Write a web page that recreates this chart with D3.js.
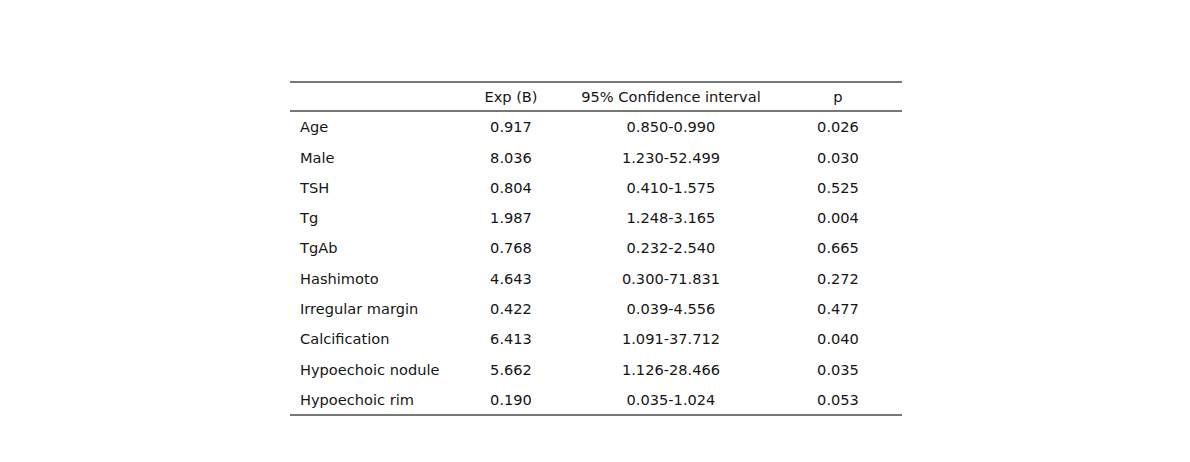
<!DOCTYPE html>
<html>
<head>
<meta charset="utf-8">
<script src="https://cdn.jsdelivr.net/npm/d3@7"></script>
<style>
  body { margin: 0; background: #fff; }
  svg text { font-family: "DejaVu Sans", sans-serif; font-size: 14.6px; fill: #151515; }
</style>
</head>
<body>
<div id="chart"></div>
<script>
// table contents
var headers = ['', 'Exp (B)', '95% Confidence interval', 'p'];
var variables = ['Age', 'Male', 'TSH', 'Tg', 'TgAb', 'Hashimoto', 'Irregular margin',
    'Calcification', 'Hypoechoic nodule', 'Hypoechoic rim'];
var expB = ['0.917', '8.036', '0.804', '1.987', '0.768', '4.643', '0.422', '6.413', '5.662', '0.190'];
var ci = ['0.850-0.990', '1.230-52.499', '0.410-1.575', '1.248-3.165', '0.232-2.540',
    '0.300-71.831', '0.039-4.556', '1.091-37.712', '1.126-28.466', '0.035-1.024'];
var pValues = ['0.026', '0.030', '0.525', '0.004', '0.665', '0.272', '0.477', '0.040', '0.035', '0.053'];

var width = 1190, height = 462;
var left = 290, right = 902;

var svg = d3.select('#chart').append('svg')
    .attr('width', width)
    .attr('height', height);

// rows: header then data
var y = d3.scaleBand()
    .domain(d3.range(variables.length))
    .range([112, 415]);

// column centres
var colX = [300, 511, 671, 838];

function rule(yy) {
    svg.append('line')
        .attr('x1', left).attr('x2', right)
        .attr('y1', yy).attr('y2', yy)
        .attr('stroke', '#777')
        .attr('stroke-width', 2);
}
rule(82);
rule(111);
rule(415);

// header
svg.selectAll('.head')
    .data(headers)
    .enter()
    .append('text')
    .attr('class', 'head')
    .attr('x', function(d, i) { return colX[i]; })
    .attr('y', 97)
    .attr('dy', '0.35em')
    .attr('text-anchor', function(d, i) { return i === 0 ? 'start' : 'middle'; })
    .text(function(d) { return d; });

var rows = svg.selectAll('.row')
    .data(variables)
    .enter()
    .append('g')
    .attr('class', 'row')
    .attr('transform', function(d, i) {
        return 'translate(0,' + (y(i) + y.bandwidth() / 2) + ')';
    });

rows.append('text')
    .attr('x', colX[0])
    .attr('dy', '0.35em')
    .text(function(d) { return d; });

rows.append('text')
    .attr('x', colX[1])
    .attr('dy', '0.35em')
    .attr('text-anchor', 'middle')
    .text(function(d, i) { return expB[i]; });

rows.append('text')
    .attr('x', colX[2])
    .attr('dy', '0.35em')
    .attr('text-anchor', 'middle')
    .text(function(d, i) { return ci[i]; });

rows.append('text')
    .attr('x', colX[3])
    .attr('dy', '0.35em')
    .attr('text-anchor', 'middle')
    .text(function(d, i) { return pValues[i]; });
</script>
</body>
</html>
